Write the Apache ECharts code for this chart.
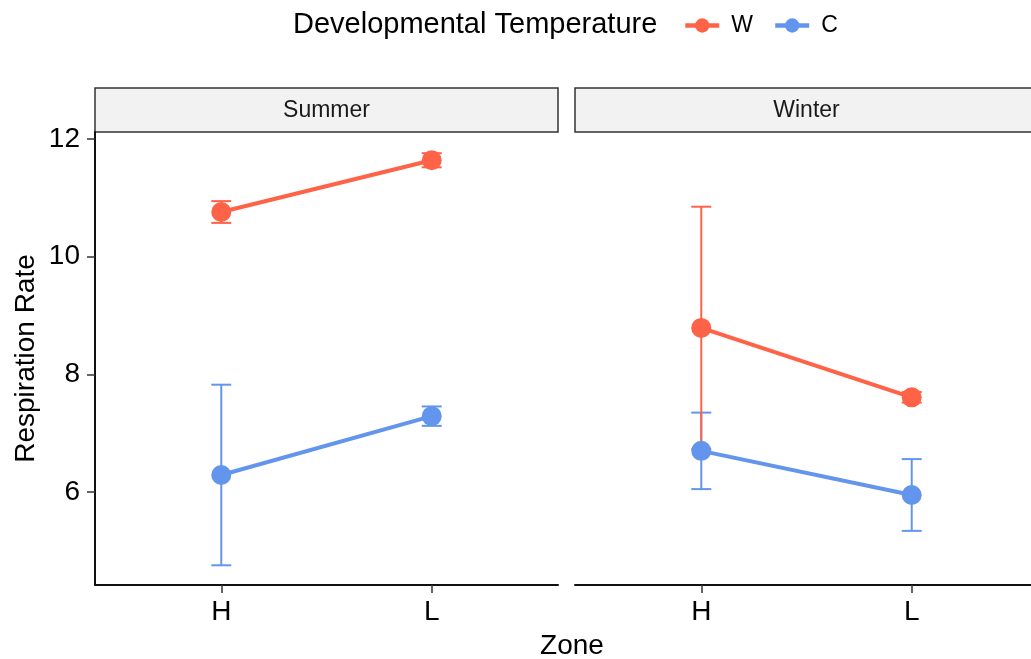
<!DOCTYPE html>
<html>
<head>
<meta charset="utf-8">
<script src="https://cdn.jsdelivr.net/npm/echarts@6/dist/echarts.min.js"></script>
<style>
  html, body { margin: 0; padding: 0; background: #fff; }
  #chart { width: 1031px; height: 659px; }
</style>
</head>
<body>
<div id="chart"></div>
<script>
// Respiration rate by zone, faceted by season, coloured by developmental temperature
const zones = ['H', 'L'];
const seasons = ['Summer', 'Winter'];
const yTicks = [6, 8, 10, 12];

// means and error half-widths, per season, in zone order
const summerW = [10.76, 11.64];
const summerWErr = [0.185, 0.12];
const summerC = [6.29, 7.29];
const summerCErr = [1.535, 0.165];
const winterW = [8.79, 7.61];
const winterWErr = [2.06, 0.09];
const winterC = [6.70, 5.95];
const winterCErr = [0.65, 0.61];

const colW = '#FF6347';
const colC = '#6495ED';

const chart = echarts.init(document.getElementById('chart'));

const font = 'Liberation Sans, Arial, Helvetica, sans-serif';

function pts(vals) { return vals.map((v, i) => [i + 1, v]); }
function errs(vals, e) { return vals.map((v, i) => [i + 1, v - e[i], v + e[i]]); }

function errorBar(name, idx, data, color) {
  return {
    type: 'custom', name: name + ' error', xAxisIndex: idx, yAxisIndex: idx,
    data: data, z: 2, silent: true,
    itemStyle: { color: color },
    renderItem: function (params, api) {
      const x = api.value(0);
      const lo = api.coord([x, api.value(1)]);
      const hi = api.coord([x, api.value(2)]);
      const hw = 10;
      const style = { stroke: color, lineWidth: 2 };
      return {
        type: 'group',
        children: [
          { type: 'line', shape: { x1: lo[0], y1: lo[1], x2: hi[0], y2: hi[1] }, style },
          { type: 'line', shape: { x1: lo[0] - hw, y1: lo[1], x2: lo[0] + hw, y2: lo[1] }, style },
          { type: 'line', shape: { x1: hi[0] - hw, y1: hi[1], x2: hi[0] + hw, y2: hi[1] }, style }
        ]
      };
    }
  };
}

function lineSeries(name, idx, vals, color) {
  return {
    type: 'line', name: name, xAxisIndex: idx, yAxisIndex: idx,
    data: pts(vals), symbol: 'circle', symbolSize: 20, z: 3,
    color: color,
    lineStyle: { color: color, width: 4 },
    itemStyle: { color: color },
    emphasis: { disabled: true }
  };
}

// both panels share one horizontal scale; the right panel runs off the canvas edge
const panelW = 463;
const grids = [
  { left: 95, top: 132, width: panelW, height: 453 },
  { left: 575, top: 132, right: 0, height: 453 }
];
const xMax = [2.6, 0.4 + 2.2 * (1031 - 575) / panelW];

function xAxis(idx) {
  return {
    type: 'value', gridIndex: idx, min: 0.4, max: xMax[idx],
    axisLine: { show: true, lineStyle: { color: '#111', width: 2 } },
    axisTick: { show: true, length: 8, lineStyle: { color: '#333', width: 1.5 }, customValues: [1, 2] },
    axisLabel: {
      show: true, customValues: [1, 2], margin: 13,
      formatter: v => zones[Math.round(v) - 1] || '',
      color: '#000', fontSize: 28, fontFamily: font
    },
    splitLine: { show: false }
  };
}

function yAxis(idx) {
  const first = idx === 0;
  return {
    type: 'value', gridIndex: idx, min: 4.42, max: 12.12,
    name: first ? 'Respiration Rate' : '',
    nameLocation: 'middle', nameGap: 55,
    nameTextStyle: { color: '#000', fontSize: 28, fontFamily: font },
    axisLine: { show: first, lineStyle: { color: '#111', width: 2 } },
    axisTick: { show: first, length: 8, lineStyle: { color: '#333', width: 1.5 }, customValues: yTicks },
    axisLabel: {
      show: first, customValues: yTicks, margin: 15,
      color: '#000', fontSize: 28, fontFamily: font
    },
    splitLine: { show: false }
  };
}

const stripGraphics = [0, 1].map(i => {
  const left = grids[i].left;
  return {
    type: 'group',
    children: [
      {
        type: 'rect',
        shape: { x: left, y: 88, width: panelW, height: 44 },
        style: { fill: '#F2F2F2', stroke: '#333', lineWidth: 1.5 }
      },
      {
        type: 'text',
        style: {
          x: left + panelW / 2, y: 111,
          text: seasons[i], align: 'center', verticalAlign: 'middle',
          fill: '#1A1A1A', fontSize: 23, fontFamily: font
        }
      }
    ]
  };
});

chart.setOption({
  animation: false,
  backgroundColor: '#fff',
  title: [
    {
      text: 'Developmental Temperature', left: 288, top: 5,
      textStyle: { color: '#000', fontSize: 29, fontWeight: 'normal', fontFamily: font }
    },
    {
      text: 'Zone', left: 567, top: 627, textAlign: 'center',
      textStyle: { color: '#000', fontSize: 28, fontWeight: 'normal', fontFamily: font }
    }
  ],
  legend: {
    data: ['W', 'C'], left: 678, top: 9,
    itemWidth: 34, itemHeight: 18, itemGap: 20,
    lineStyle: { width: 4.5 },
    textStyle: { color: '#000', fontSize: 23, fontFamily: font, padding: [0, 0, 0, 7] },
    selectedMode: false
  },
  grid: grids,
  xAxis: [xAxis(0), xAxis(1)],
  yAxis: [yAxis(0), yAxis(1)],
  graphic: stripGraphics,
  series: [
    lineSeries('W', 0, summerW, colW),
    lineSeries('C', 0, summerC, colC),
    errorBar('C', 0, errs(summerC, summerCErr), colC),
    errorBar('W', 0, errs(summerW, summerWErr), colW),
    errorBar('C', 1, errs(winterC, winterCErr), colC),
    lineSeries('C', 1, winterC, colC),
    errorBar('W', 1, errs(winterW, winterWErr), colW),
    lineSeries('W', 1, winterW, colW)
  ]
});
</script>
</body>
</html>
